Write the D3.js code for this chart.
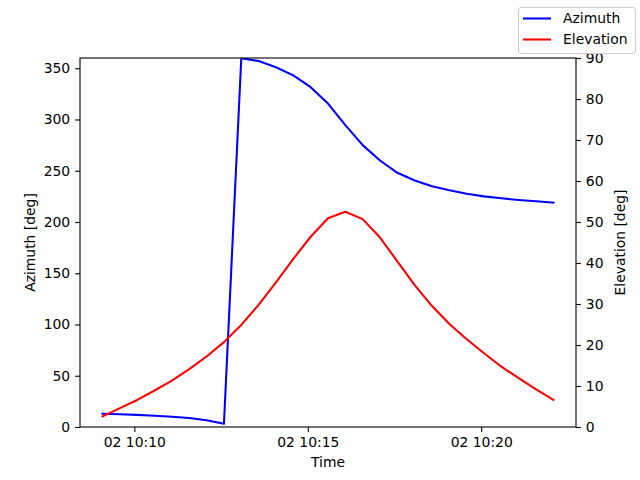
<!DOCTYPE html>
<html>
<head>
<meta charset="utf-8">
<script src="https://cdn.jsdelivr.net/npm/d3@7"></script>
<style>
  body { margin: 0; background: #fff; }
  svg { font-family: "DejaVu Sans", sans-serif; }
</style>
</head>
<body>
<svg id="chart"></svg>
<script>
// sample times (30 s steps) on day 02
var times = ["10:09:05","10:09:35","10:10:05","10:10:35","10:11:05","10:11:35","10:12:05",
  "10:12:35","10:13:05","10:13:35","10:14:05","10:14:35","10:15:05","10:15:35","10:16:05",
  "10:16:35","10:17:05","10:17:35","10:18:05","10:18:35","10:19:05","10:19:35","10:20:05",
  "10:20:35","10:21:05","10:21:35","10:22:05"];
var azimuth = [13.0, 12.5, 11.8, 11.0, 10.0, 8.7, 6.5, 3.2, 359.7, 357.0, 351.0, 343.0, 331.5,
  315.5, 294.5, 275.0, 260.0, 248.0, 240.5, 234.8, 230.9, 227.6, 225.0, 223.1, 221.5, 220.2, 218.9];
var elevation = [2.6, 4.6, 6.6, 8.9, 11.3, 14.1, 17.2, 20.7, 24.9, 29.8, 35.3, 41.0, 46.4,
  50.9, 52.5, 50.7, 46.2, 40.4, 34.6, 29.5, 25.1, 21.4, 18.0, 14.7, 11.9, 9.2, 6.6];
var azTicks = [0, 50, 100, 150, 200, 250, 300, 350];
var elTicks = [0, 10, 20, 30, 40, 50, 60, 70, 80, 90];
var timeTicks = ["10:10:00", "10:15:00", "10:20:00"];
var seriesNames = ["Azimuth", "Elevation"];
var seriesColors = ["#0000ff", "#ff0000"];

var W = 640, H = 480;
var L = 80, R = 576, T = 58, B = 427;
var fs = 13.9;

var parseT = d3.timeParse("%Y-%m-%d %H:%M:%S");
var toDate = function(s){ return parseT("2024-01-02 " + s); };
var dates = times.map(toDate);

var svg = d3.select("#chart").attr("width", W).attr("height", H);
svg.append("rect").attr("width", W).attr("height", H).attr("fill", "#fff");

// matplotlib style 5% margin on x
var span = dates[dates.length-1] - dates[0];
var x = d3.scaleTime()
  .domain([new Date(+dates[0] - span*0.05), new Date(+dates[dates.length-1] + span*0.05)])
  .range([L, R]);
var yAz = d3.scaleLinear().domain([0, 360]).range([B, T]);
var yEl = d3.scaleLinear().domain([0, 90]).range([B, T]);

svg.append("clipPath").attr("id", "clip")
  .append("rect").attr("x", L).attr("y", T).attr("width", R-L).attr("height", B-T);

var lineAz = d3.line().x(function(d,i){ return x(dates[i]); }).y(function(d){ return yAz(d); });
var lineEl = d3.line().x(function(d,i){ return x(dates[i]); }).y(function(d){ return yEl(d); });

var plot = svg.append("g").attr("clip-path", "url(#clip)");
plot.append("path").datum(azimuth).attr("d", lineAz)
  .attr("fill", "none").attr("stroke", seriesColors[0]).attr("stroke-width", 2.08)
  .attr("stroke-linejoin", "round").attr("stroke-linecap", "square");
plot.append("path").datum(elevation).attr("d", lineEl)
  .attr("fill", "none").attr("stroke", seriesColors[1]).attr("stroke-width", 2.08)
  .attr("stroke-linejoin", "round").attr("stroke-linecap", "square");

function styleAxis(g){
  g.selectAll(".domain").remove();
  g.selectAll(".tick line").attr("stroke", "#000").attr("stroke-width", 1.1);
  g.selectAll(".tick text").attr("fill", "#000").style("font-size", fs + "px")
    .style("font-family", "DejaVu Sans");
}

var fmt = d3.timeFormat("%d %H:%M");
svg.append("g").attr("transform", "translate(0," + B + ")")
  .call(d3.axisBottom(x).tickValues(timeTicks.map(toDate)).tickFormat(fmt)
    .tickSize(4.9).tickPadding(4.9))
  .call(styleAxis);

svg.append("g").attr("transform", "translate(" + L + ",0)")
  .call(d3.axisLeft(yAz).tickValues(azTicks).tickSize(4.9).tickPadding(4.9))
  .call(styleAxis);

svg.append("g").attr("transform", "translate(" + R + ",0)")
  .call(d3.axisRight(yEl).tickValues(elTicks).tickSize(4.9).tickPadding(4.9))
  .call(styleAxis);

// spines
svg.append("rect").attr("x", L).attr("y", T).attr("width", R-L).attr("height", B-T)
  .attr("fill", "none").attr("stroke", "#000").attr("stroke-width", 1.1);

// axis labels
svg.append("text").attr("x", (L+R)/2).attr("y", 467).attr("text-anchor", "middle")
  .style("font-size", fs + "px").text("Time");
svg.append("text").attr("transform", "translate(35," + (T+B)/2 + ") rotate(-90)")
  .attr("text-anchor", "middle").style("font-size", fs + "px").text("Azimuth [deg]");
svg.append("text").attr("transform", "translate(620," + (T+B)/2 + ") rotate(-90)")
  .attr("text-anchor", "middle").attr("dy", "0.35em")
  .style("font-size", fs + "px").text("Elevation [deg]");

// figure legend
var leg = svg.append("g");
leg.append("rect").attr("x", 518.5).attr("y", 7.5).attr("width", 117).attr("height", 46)
  .attr("rx", 2.5).attr("fill", "#fff").attr("fill-opacity", 0.8)
  .attr("stroke", "#cccccc").attr("stroke-width", 1);
seriesNames.forEach(function(name, i){
  var yy = 18.5 + i*21;
  leg.append("line").attr("x1", 523).attr("x2", 551).attr("y1", yy).attr("y2", yy)
    .attr("stroke", seriesColors[i]).attr("stroke-width", 2.08);
  leg.append("text").attr("x", 563).attr("y", yy).attr("dy", "0.35em")
    .style("font-size", fs + "px").text(name);
});
</script>
</body>
</html>
